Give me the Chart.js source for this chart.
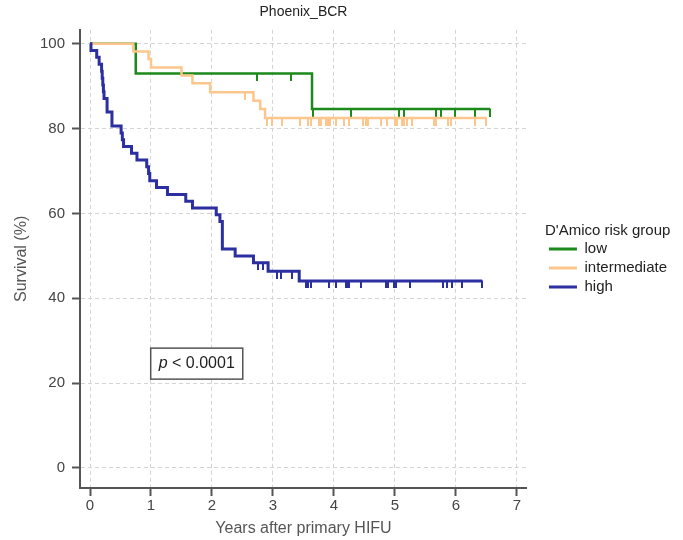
<!DOCTYPE html>
<html>
<head>
<meta charset="utf-8">
<script src="https://cdn.jsdelivr.net/npm/chart.js@4.4.1/dist/chart.umd.min.js"></script>
<style>
  html, body { margin: 0; padding: 0; background: #fff; }
  #wrap { width: 683px; height: 540px; }
</style>
</head>
<body>
<div id="wrap"><canvas id="km" width="683" height="540"></canvas></div>
<script>
// Kaplan-Meier curves, Phoenix_BCR by D'Amico risk group
const groupNames = ['low', 'intermediate', 'high'];

const lowTimes = [0, 0.75, 3.64, 6.56];
const lowSurv = [100, 93.0, 84.6, 84.6];
const lowCensor = [2.73, 3.30, 3.65, 4.28, 5.07, 5.15, 5.68, 5.76, 5.98, 6.31, 6.56];

const midTimes = [0, 0.71, 0.96, 1.00, 1.50, 1.68, 1.97, 2.68, 2.79, 2.87, 6.50];
const midSurv = [100, 98.2, 96.4, 94.4, 92.5, 90.7, 88.6, 86.6, 84.6, 82.5, 82.5];
const midCensor = [2.54, 2.91, 2.99, 3.14, 3.45, 3.57, 3.62, 3.75, 3.78, 3.87, 3.91, 3.93,
  4.03, 4.17, 4.25, 4.48, 4.52, 4.55, 4.77, 4.87, 5.00, 5.03, 5.12, 5.15, 5.19, 5.28,
  5.64, 5.68, 5.87, 5.92, 6.31, 6.50];

const highTimes = [0, 0.016, 0.11, 0.15, 0.19, 0.20, 0.21, 0.22, 0.23, 0.28, 0.36, 0.51, 0.53,
  0.55, 0.68, 0.77, 0.93, 0.96, 0.98, 1.09, 1.27, 1.57, 1.68, 2.07, 2.13, 2.17, 2.38, 2.68,
  2.92, 3.43, 6.43];
const highSurv = [100, 98.4, 96.8, 95.2, 93.5, 91.9, 90.3, 88.7, 87.1, 83.9, 80.6, 79.0, 77.4,
  75.8, 74.2, 72.6, 71.0, 69.4, 67.7, 66.1, 64.5, 62.9, 61.3, 59.7, 58.1, 51.6, 50.0, 48.4,
  46.4, 44.1, 44.1];
const highCensor = [2.75, 2.83, 3.07, 3.13, 3.31, 3.54, 3.58, 3.62, 3.92, 4.03, 4.20, 4.22,
  4.24, 4.44, 4.85, 4.89, 4.98, 5.02, 5.25, 5.78, 5.85, 5.93, 6.10, 6.43];

const xTicks = [0, 1, 2, 3, 4, 5, 6, 7];
const yTicks = [0, 20, 40, 60, 80, 100];

const pLabel = { italic: 'p', rest: ' < 0.0001', x: 1.75, y: 24.6 };

const colors = { low: '#1b8a1b', intermediate: '#fdc68c', high: '#2b2f9f' };

function stepPoints(times, surv) {
  return times.map((t, i) => ({ x: t, y: surv[i] }));
}

function survAt(times, surv, t) {
  let s = surv[0];
  for (let i = 0; i < times.length; i++) {
    if (times[i] <= t) s = surv[i];
  }
  return s;
}

// small vertical tick hanging below the curve
function censorMark(color, w) {
  const c = document.createElement('canvas');
  c.width = w;
  c.height = 15;
  const g = c.getContext('2d');
  g.fillStyle = color;
  g.fillRect(0, 7, w, 8);
  return c;
}

const curves = [
  { name: groupNames[0], times: lowTimes, surv: lowSurv, censor: lowCensor, color: colors.low, width: 2.5, order: 3 },
  { name: groupNames[1], times: midTimes, surv: midSurv, censor: midCensor, color: colors.intermediate, width: 2.5, order: 2 },
  { name: groupNames[2], times: highTimes, surv: highSurv, censor: highCensor, color: colors.high, width: 3, order: 1 },
];

const datasets = [];
curves.forEach((c) => {
  datasets.push({
    label: c.name,
    data: stepPoints(c.times, c.surv),
    stepped: 'before',
    borderColor: c.color,
    backgroundColor: c.color,
    borderWidth: c.width,
    pointRadius: 0,
    fill: false,
    order: c.order,
  });
});
curves.forEach((c) => {
  datasets.push({
    label: c.name + ' censored',
    data: c.censor.map((t) => ({ x: t, y: survAt(c.times, c.surv, t) })),
    showLine: false,
    pointStyle: censorMark(c.color, 2),
    pointRadius: 3,
    borderColor: c.color,
    backgroundColor: c.color,
    order: c.order,
  });
});

const pValueBox = {
  id: 'pValueBox',
  afterDraw(chart) {
    const { ctx, scales } = chart;
    const cx = scales.x.getPixelForValue(pLabel.x);
    const cy = scales.y.getPixelForValue(pLabel.y);
    ctx.save();
    ctx.font = 'italic 16px "Liberation Sans", Arial, sans-serif';
    const w1 = ctx.measureText(pLabel.italic).width;
    ctx.font = '16px "Liberation Sans", Arial, sans-serif';
    const w2 = ctx.measureText(pLabel.rest).width;
    const w = w1 + w2;
    const bw = w + 16;
    const bh = 31;
    ctx.fillStyle = '#fff';
    ctx.fillRect(cx - bw / 2, cy - bh / 2, bw, bh);
    ctx.strokeStyle = '#555';
    ctx.lineWidth = 1.5;
    ctx.strokeRect(cx - bw / 2, cy - bh / 2, bw, bh);
    ctx.fillStyle = '#222';
    ctx.textBaseline = 'middle';
    ctx.textAlign = 'left';
    ctx.font = 'italic 16px "Liberation Sans", Arial, sans-serif';
    ctx.fillText(pLabel.italic, cx - w / 2, cy);
    ctx.font = '16px "Liberation Sans", Arial, sans-serif';
    ctx.fillText(pLabel.rest, cx - w / 2 + w1, cy);
    ctx.restore();
  },
};

Chart.defaults.font.family = '"Liberation Sans", Arial, sans-serif';

const axisGrid = {
  color: '#d4d4d4',
  lineWidth: 1,
  tickColor: '#555',
  tickWidth: 2,
  tickLength: 8,
};

new Chart(document.getElementById('km'), {
  type: 'line',
  data: { datasets },
  options: {
    responsive: false,
    animation: false,
    events: [],
    layout: { padding: { left: 0, right: 6, top: 0, bottom: 0 } },
    scales: {
      x: {
        type: 'linear',
        min: -0.164,
        max: 7.164,
        afterBuildTicks: (s) => { s.ticks = xTicks.map((v) => ({ value: v })); },
        afterFit: (s) => { s.height = 52; },
        ticks: { color: '#444', font: { size: 15 }, padding: 1 },
        grid: axisGrid,
        border: { display: true, color: '#555', width: 2, dash: [4, 3] },
        title: {
          display: true,
          text: 'Years after primary HIFU',
          color: '#555',
          font: { size: 16 },
          padding: { top: 0, bottom: 2 },
        },
      },
      y: {
        type: 'linear',
        min: -4.72,
        max: 103.3,
        afterBuildTicks: (s) => { s.ticks = yTicks.map((v) => ({ value: v })); },
        afterFit: (s) => { s.width = 80; },
        ticks: { color: '#444', font: { size: 15 }, padding: 7 },
        grid: axisGrid,
        border: { display: true, color: '#555', width: 2, dash: [4, 3] },
        title: {
          display: true,
          text: 'Survival (%)',
          color: '#555',
          font: { size: 16 },
          padding: { top: 12, bottom: 0 },
        },
      },
      gap: {
        type: 'linear',
        position: 'right',
        display: true,
        grid: { display: false },
        ticks: { display: false },
        border: { display: false },
        afterFit: (s) => { s.width = 18; },
      },
    },
    plugins: {
      title: {
        display: true,
        text: 'Phoenix_BCR',
        color: '#222',
        font: { size: 14, weight: 'normal' },
        padding: { top: 4, bottom: 9 },
        fullSize: false,
      },
      legend: {
        display: true,
        position: 'right',
        align: 'center',
        fullSize: false,
        maxWidth: 300,
        title: {
          display: true,
          text: "D'Amico risk group",
          position: 'start',
          color: '#222',
          font: { size: 15, lineHeight: 0.8 },
          padding: { top: 4, bottom: 2 },
        },
        labels: {
          color: '#222',
          font: { size: 15 },
          boxWidth: 28,
          boxHeight: 3,
          padding: 4,
          filter: (item) => item.datasetIndex < 3,
          sort: (a, b) => a.datasetIndex - b.datasetIndex,
          generateLabels: (chart) => {
            const items = Chart.defaults.plugins.legend.labels.generateLabels(chart);
            items.forEach((it) => { it.lineWidth = 0; it.fillStyle = it.strokeStyle; });
            return items;
          },
        },
      },
      tooltip: { enabled: false },
    },
  },
  plugins: [pValueBox],
});
</script>
</body>
</html>
